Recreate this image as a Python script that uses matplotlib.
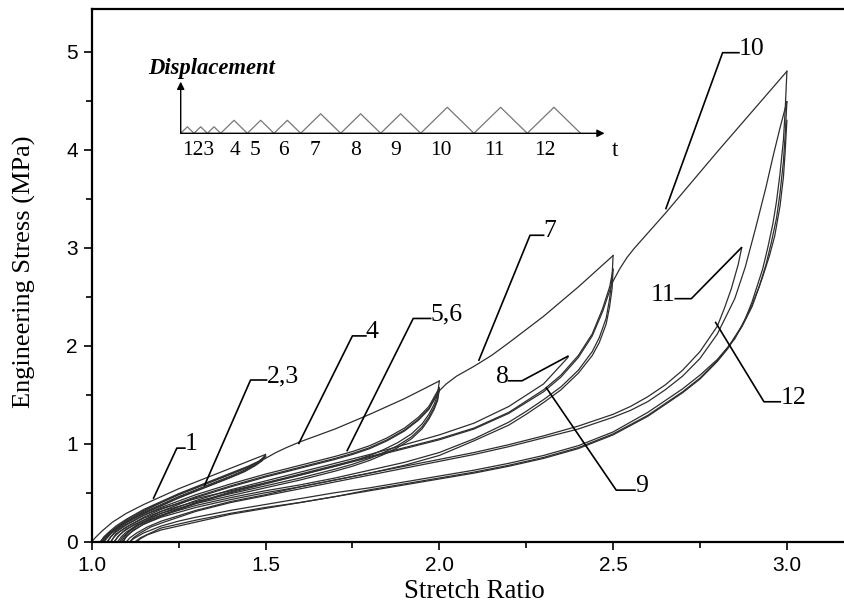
import matplotlib
matplotlib.use("Agg")
import matplotlib.pyplot as plt
from matplotlib.ticker import MultipleLocator, FixedLocator

SERIF = "Liberation Serif"
SANS = "Liberation Sans"

# ---------------- data ----------------
# group max stretch 1.5 (cycles 1-3)
c1_load_x = [1.0, 1.01, 1.03, 1.06, 1.1, 1.15, 1.2, 1.25, 1.3, 1.35, 1.4, 1.45, 1.5]
c1_load_y = [0, 0.04, 0.11, 0.2, 0.29, 0.38, 0.46, 0.54, 0.61, 0.68, 0.75, 0.82, 0.89]
c1_unload_x = [1.5, 1.49, 1.47, 1.44, 1.4, 1.35, 1.3, 1.25, 1.2, 1.15, 1.1, 1.07, 1.05, 1.035, 1.025]
c1_unload_y = [0.89, 0.84, 0.79, 0.73, 0.67, 0.6, 0.53, 0.46, 0.38, 0.3, 0.21, 0.14, 0.09, 0.04, 0]
c2_load_x = [1.025, 1.035, 1.05, 1.07, 1.1, 1.15, 1.2, 1.25, 1.3, 1.35, 1.4, 1.45, 1.48, 1.5]
c2_load_y = [0, 0.05, 0.1, 0.16, 0.23, 0.33, 0.41, 0.49, 0.56, 0.63, 0.7, 0.77, 0.82, 0.875]
c2_unload_x = [1.5, 1.49, 1.47, 1.44, 1.4, 1.35, 1.3, 1.25, 1.2, 1.15, 1.1, 1.07, 1.05, 1.04, 1.03]
c2_unload_y = [0.875, 0.83, 0.78, 0.72, 0.66, 0.59, 0.52, 0.45, 0.37, 0.29, 0.2, 0.13, 0.08, 0.04, 0]
c3_load_x = [1.03, 1.04, 1.055, 1.075, 1.1, 1.15, 1.2, 1.25, 1.3, 1.35, 1.4, 1.45, 1.48, 1.5]
c3_load_y = [0, 0.05, 0.1, 0.16, 0.22, 0.32, 0.4, 0.48, 0.55, 0.62, 0.69, 0.76, 0.815, 0.87]
c3_unload_x = [1.5, 1.49, 1.47, 1.44, 1.4, 1.35, 1.3, 1.25, 1.2, 1.15, 1.1, 1.075, 1.055, 1.045, 1.035]
c3_unload_y = [0.87, 0.825, 0.775, 0.715, 0.655, 0.585, 0.515, 0.445, 0.365, 0.285, 0.195, 0.135, 0.08, 0.04, 0]

# group max stretch 2.0 (cycles 4-6)
c4_load_x = [1.035, 1.045, 1.06, 1.08, 1.1, 1.15, 1.2, 1.25, 1.3, 1.35, 1.4, 1.45, 1.5, 1.53, 1.56, 1.6, 1.7, 1.8, 1.9, 2.0]
c4_load_y = [0, 0.05, 0.1, 0.15, 0.2, 0.31, 0.4, 0.48, 0.55, 0.62, 0.69, 0.76, 0.85, 0.91, 0.96, 1.02, 1.15, 1.3, 1.46, 1.64]
c4_unload_x = [2.0, 1.995, 1.985, 1.97, 1.95, 1.92, 1.88, 1.84, 1.8, 1.75, 1.7, 1.6, 1.5, 1.4, 1.3, 1.25, 1.2, 1.15, 1.1, 1.07, 1.055, 1.045]
c4_unload_y = [1.64, 1.5, 1.4, 1.3, 1.2, 1.1, 1.01, 0.94, 0.88, 0.82, 0.77, 0.68, 0.6, 0.52, 0.44, 0.39, 0.34, 0.27, 0.18, 0.11, 0.05, 0]
c5_load_x = [1.045, 1.055, 1.07, 1.1, 1.15, 1.2, 1.3, 1.4, 1.5, 1.6, 1.7, 1.75, 1.8, 1.85, 1.9, 1.94, 1.97, 2.0]
c5_load_y = [0, 0.05, 0.1, 0.17, 0.27, 0.35, 0.48, 0.59, 0.69, 0.78, 0.87, 0.92, 0.98, 1.06, 1.16, 1.27, 1.38, 1.57]
c5_unload_x = [2.0, 1.995, 1.985, 1.97, 1.95, 1.92, 1.88, 1.84, 1.8, 1.75, 1.7, 1.6, 1.5, 1.4, 1.3, 1.2, 1.15, 1.1, 1.07, 1.055]
c5_unload_y = [1.57, 1.46, 1.37, 1.27, 1.17, 1.07, 0.98, 0.91, 0.85, 0.79, 0.74, 0.65, 0.57, 0.49, 0.41, 0.31, 0.24, 0.15, 0.08, 0]
c6_load_x = [1.055, 1.065, 1.08, 1.11, 1.15, 1.2, 1.3, 1.4, 1.5, 1.6, 1.7, 1.75, 1.8, 1.85, 1.9, 1.94, 1.97, 2.0]
c6_load_y = [0, 0.05, 0.1, 0.17, 0.25, 0.33, 0.46, 0.57, 0.67, 0.76, 0.85, 0.9, 0.96, 1.04, 1.14, 1.25, 1.36, 1.55]
c6_unload_x = [2.0, 1.995, 1.985, 1.97, 1.95, 1.92, 1.88, 1.84, 1.8, 1.75, 1.7, 1.6, 1.5, 1.4, 1.3, 1.2, 1.15, 1.1, 1.08, 1.065]
c6_unload_y = [1.55, 1.44, 1.35, 1.25, 1.15, 1.05, 0.96, 0.89, 0.83, 0.77, 0.72, 0.63, 0.55, 0.47, 0.39, 0.29, 0.22, 0.13, 0.07, 0]

# group max stretch 2.5 (cycles 7-9)
c7_load_x = [1.065, 1.075, 1.09, 1.12, 1.15, 1.2, 1.3, 1.4, 1.5, 1.6, 1.7, 1.75, 1.8, 1.85, 1.9, 1.94, 1.97, 2.0,
             2.02, 2.05, 2.1, 2.15, 2.2, 2.3, 2.4, 2.5]
c7_load_y = [0, 0.05, 0.1, 0.17, 0.22, 0.31, 0.45, 0.56, 0.66, 0.75, 0.84, 0.89, 0.95, 1.03, 1.13, 1.24, 1.35, 1.54,
             1.61, 1.69, 1.79, 1.9, 2.03, 2.3, 2.6, 2.92]
c7_unload_x = [2.5, 2.497, 2.49, 2.48, 2.46, 2.44, 2.4, 2.35, 2.3, 2.25, 2.2, 2.1, 2.0, 1.9, 1.8, 1.7, 1.6, 1.5, 1.4,
               1.3, 1.2, 1.15, 1.12, 1.1, 1.085]
c7_unload_y = [2.92, 2.7, 2.48, 2.28, 2.08, 1.94, 1.75, 1.58, 1.45, 1.33, 1.22, 1.05, 0.91, 0.81, 0.73, 0.65, 0.58,
               0.52, 0.45, 0.37, 0.27, 0.2, 0.14, 0.08, 0]
c8_load_x = [1.075, 1.085, 1.1, 1.13, 1.2, 1.3, 1.4, 1.5, 1.6, 1.7, 1.8, 1.9, 2.0, 2.1, 2.2, 2.3, 2.37]
c8_load_y = [0, 0.05, 0.1, 0.17, 0.29, 0.42, 0.53, 0.62, 0.71, 0.8, 0.89, 0.99, 1.09, 1.21, 1.38, 1.61, 1.88]
c9_load_x = [1.08, 1.09, 1.105, 1.135, 1.2, 1.3, 1.4, 1.5, 1.6, 1.7, 1.8, 1.9, 2.0, 2.1, 2.2, 2.3, 2.35, 2.4, 2.44,
             2.47, 2.49, 2.5]
c9_load_y = [0, 0.05, 0.1, 0.17, 0.27, 0.4, 0.51, 0.6, 0.69, 0.78, 0.87, 0.96, 1.05, 1.16, 1.32, 1.55, 1.7, 1.9, 2.12,
             2.38, 2.6, 2.78]
c9_unload_x = [2.5, 2.497, 2.49, 2.48, 2.46, 2.44, 2.4, 2.35, 2.3, 2.25, 2.2, 2.1, 2.0, 1.9, 1.8, 1.7, 1.6, 1.5, 1.4,
               1.3, 1.2, 1.15, 1.12, 1.1, 1.09]
c9_unload_y = [2.78, 2.58, 2.4, 2.22, 2.03, 1.9, 1.72, 1.55, 1.42, 1.3, 1.19, 1.03, 0.88, 0.78, 0.7, 0.63, 0.56, 0.5,
               0.43, 0.35, 0.25, 0.18, 0.12, 0.06, 0]

# group max stretch 3.0 (cycles 10-12)
c10_load_x = [1.09, 1.1, 1.115, 1.145, 1.2, 1.3, 1.4, 1.5, 1.6, 1.7, 1.8, 1.9, 2.0, 2.1, 2.2, 2.3, 2.35, 2.4, 2.44,
              2.47, 2.49, 2.5, 2.52, 2.54, 2.56, 2.58, 2.6, 2.65, 2.7, 2.8, 2.9, 3.0]
c10_load_y = [0, 0.05, 0.1, 0.17, 0.26, 0.39, 0.5, 0.59, 0.68, 0.77, 0.86, 0.95, 1.04, 1.15, 1.31, 1.53, 1.68, 1.88,
              2.1, 2.35, 2.56, 2.66, 2.79, 2.9, 2.99, 3.07, 3.15, 3.35, 3.56, 3.98, 4.39, 4.80]
c10_unload_x = [3.0, 2.995, 2.99, 2.98, 2.97, 2.96, 2.945, 2.93, 2.9, 2.88, 2.85, 2.8, 2.75, 2.7, 2.6, 2.5, 2.4, 2.3,
                2.2, 2.1, 2.0, 1.9, 1.8, 1.7, 1.6, 1.5, 1.4, 1.3, 1.25, 1.2, 1.15, 1.12, 1.11]
c10_unload_y = [4.80, 4.4, 4.1, 3.75, 3.47, 3.25, 3.0, 2.78, 2.45, 2.27, 2.07, 1.86, 1.7, 1.56, 1.32, 1.12, 0.98,
                0.88, 0.8, 0.73, 0.67, 0.61, 0.55, 0.5, 0.44, 0.38, 0.32, 0.25, 0.21, 0.16, 0.09, 0.03, 0]
c11_load_x = [1.1, 1.11, 1.13, 1.16, 1.2, 1.3, 1.4, 1.5, 1.6, 1.7, 1.8, 1.9, 2.0, 2.1, 2.2, 2.3, 2.4, 2.5, 2.55,
              2.6, 2.65, 2.7, 2.75, 2.8, 2.82, 2.84, 2.86, 2.87]
c11_load_y = [0, 0.04, 0.09, 0.15, 0.21, 0.32, 0.41, 0.48, 0.56, 0.63, 0.7, 0.77, 0.84, 0.91, 0.99, 1.08, 1.18, 1.3,
              1.38, 1.48, 1.6, 1.75, 1.94, 2.2, 2.38, 2.58, 2.83, 3.0]
c12_load_x = [1.11, 1.12, 1.14, 1.17, 1.2, 1.3, 1.4, 1.5, 1.6, 1.7, 1.8, 1.9, 2.0, 2.1, 2.2, 2.3, 2.4, 2.5, 2.55,
              2.6, 2.65, 2.7, 2.75, 2.8, 2.85, 2.88, 2.91, 2.94, 2.96, 2.98, 3.0]
c12_load_y = [0, 0.04, 0.09, 0.15, 0.19, 0.31, 0.4, 0.47, 0.54, 0.61, 0.68, 0.75, 0.82, 0.89, 0.97, 1.06, 1.15, 1.27,
              1.34, 1.43, 1.55, 1.69, 1.87, 2.12, 2.48, 2.8, 3.2, 3.62, 3.93, 4.22, 4.49]
c12_unload_x = [3.0, 2.995, 2.99, 2.98, 2.97, 2.955, 2.94, 2.92, 2.9, 2.87, 2.83, 2.8, 2.75, 2.7, 2.6, 2.5, 2.4, 2.3,
                2.2, 2.1, 2.0, 1.9, 1.8, 1.7, 1.6, 1.5, 1.4, 1.3, 1.2, 1.16, 1.14, 1.13]
c12_unload_y = [4.49, 4.15, 3.88, 3.55, 3.3, 3.05, 2.83, 2.6, 2.42, 2.2, 1.98, 1.85, 1.67, 1.53, 1.29, 1.1, 0.96,
                0.86, 0.78, 0.71, 0.65, 0.59, 0.53, 0.46, 0.4, 0.34, 0.28, 0.2, 0.12, 0.07, 0.03, 0]
c13_unload_x = [3.0, 2.995, 2.99, 2.98, 2.965, 2.95, 2.93, 2.9, 2.87, 2.83, 2.8, 2.75, 2.7, 2.6, 2.5, 2.4, 2.3, 2.2,
                2.1, 2.0, 1.9, 1.8, 1.7, 1.6, 1.5, 1.4, 1.3, 1.2, 1.17, 1.14, 1.125]
c13_unload_y = [4.30, 3.98, 3.72, 3.42, 3.12, 2.92, 2.7, 2.4, 2.19, 1.97, 1.84, 1.66, 1.52, 1.28, 1.09, 0.95, 0.85,
                0.77, 0.7, 0.64, 0.58, 0.52, 0.46, 0.4, 0.35, 0.29, 0.22, 0.14, 0.09, 0.04, 0]

# leader labels: text, [curve point, elbow, end], side of text
lab_text = ["1", "2,3", "4", "5,6", "7", "10", "8", "9", "11", "12"]
lab_x = [[1.178, 1.245, 1.268], [1.325, 1.457, 1.503], [1.596, 1.750, 1.789], [1.735, 1.925, 1.975],
         [2.114, 2.261, 2.300], [2.652, 2.815, 2.862], [2.370, 2.238, 2.199], [2.308, 2.509, 2.563],
         [2.869, 2.725, 2.679], [2.795, 2.934, 2.981]]
lab_y = [[0.445, 0.955, 0.955], [0.578, 1.65, 1.65], [1.003, 2.10, 2.10], [0.93, 2.278, 2.278],
         [1.853, 3.127, 3.127], [3.40, 4.99, 4.99], [1.893, 1.642, 1.642], [1.57, 0.526, 0.526],
         [3.0, 2.48, 2.48], [2.237, 1.428, 1.428]]
lab_side = ["left", "left", "left", "left", "left", "left", "right", "left", "right", "left"]

# inset: displacement amplitude of the 12 triangular cycles
cycle_amp = [0.5, 0.5, 0.5, 1.0, 1.0, 1.0, 1.5, 1.5, 1.5, 2.0, 2.0, 2.0]
cycle_names = ["123", "4", "5", "6", "7", "8", "9", "10", "11", "12"]
cycle_label_t = [1.3, 4.05, 5.55, 7.7, 10.1, 13.1, 16.1, 19.5, 23.5, 27.3]

x_ticks = [1.0, 1.5, 2.0, 2.5, 3.0]
x_ticklabels = ["1.0", "1.5", "2.0", "2.5", "3.0"]
y_ticks = [0, 1, 2, 3, 4, 5]
y_ticklabels = ["0", "1", "2", "3", "4", "5"]

# ---------------- figure ----------------
W_PX, H_PX = 844, 616
fig = plt.figure(figsize=(W_PX / 100, H_PX / 100), dpi=100)
left_px, bottom_px, top_px = 91.7, 541.7, 8.6
ax = fig.add_axes([left_px / W_PX, 1 - bottom_px / H_PX, 1 - left_px / W_PX, (bottom_px - top_px) / H_PX])
ax.set_xlim(1.0, 1.0 + (W_PX - left_px) / 347.6)
ax.set_ylim(0, 5.44)

curves = [
    (c1_load_x, c1_load_y), (c1_unload_x, c1_unload_y), (c2_load_x, c2_load_y), (c2_unload_x, c2_unload_y),
    (c3_load_x, c3_load_y), (c3_unload_x, c3_unload_y), (c4_load_x, c4_load_y), (c4_unload_x, c4_unload_y),
    (c5_load_x, c5_load_y), (c5_unload_x, c5_unload_y), (c6_load_x, c6_load_y), (c6_unload_x, c6_unload_y),
    (c7_load_x, c7_load_y), (c7_unload_x, c7_unload_y), (c8_load_x, c8_load_y), (c9_load_x, c9_load_y),
    (c9_unload_x, c9_unload_y), (c10_load_x, c10_load_y), (c10_unload_x, c10_unload_y),
    (c11_load_x, c11_load_y), (c12_load_x, c12_load_y), (c12_unload_x, c12_unload_y),
    (c13_unload_x, c13_unload_y),
]
for cx, cy in curves:
    ax.plot(cx, cy, color="#2e2e2e", lw=0.9, solid_joinstyle="round", zorder=2)

for txt, lx, ly, side in zip(lab_text, lab_x, lab_y, lab_side):
    ax.plot(lx, ly, color="black", lw=1.2, zorder=3)
    ax.text(lx[-1], ly[-1] - 0.02, txt, ha=side, va="baseline", family=SERIF, fontsize=18.5, zorder=4)

ax.spines["right"].set_visible(False)
for s in ("left", "top", "bottom"):
    ax.spines[s].set_linewidth(1.6)
ax.xaxis.set_major_locator(FixedLocator(x_ticks))
ax.set_xticklabels(x_ticklabels)
ax.yaxis.set_major_locator(FixedLocator(y_ticks))
ax.set_yticklabels(y_ticklabels)
ax.xaxis.set_minor_locator(MultipleLocator(0.25))
ax.yaxis.set_minor_locator(MultipleLocator(0.5))
ax.tick_params(which="major", direction="out", length=6, width=1.2, labelsize=15, pad=4)
ax.tick_params(which="minor", direction="out", length=4, width=1.2)
for lbl in ax.get_xticklabels() + ax.get_yticklabels():
    lbl.set_family(SANS)
ax.tick_params(axis="x", which="both", top=False)

fig.text(474 / W_PX, 1 - 592 / H_PX, "Stretch Ratio", ha="center", va="center", family=SERIF, fontsize=19.3)
fig.text(24 / W_PX, 1 - 272 / H_PX, "Engineering Stress (MPa)", ha="center", va="center", rotation=90,
         family=SERIF, fontsize=19)

# ---------------- inset: loading history ----------------
ox, oy, sx, sy = 180.7, 133.3, 13.33, 13.0
il, ir, it_, ib = 165, 630, 55, 170
iax = fig.add_axes([il / W_PX, 1 - ib / H_PX, (ir - il) / W_PX, (ib - it_) / H_PX])
iax.set_xlim((il - ox) / sx, (ir - ox) / sx)
iax.set_ylim((oy - ib) / sy, (oy - it_) / sy)
iax.axis("off")

tt, dd = [0.0], [0.0]
for a in cycle_amp:
    tt += [tt[-1] + a, tt[-1] + 2 * a]
    dd += [a, 0.0]
iax.plot(tt, dd, color="#777777", lw=0.9)
arrow = dict(arrowstyle="-|>", color="black", lw=1.0, mutation_scale=11, shrinkA=0, shrinkB=0)
iax.annotate("", xy=(31.8, 0), xytext=(0, 0), arrowprops=arrow)
iax.annotate("", xy=(0, 3.97), xytext=(0, 0), arrowprops=arrow)
for name, t in zip(cycle_names, cycle_label_t):
    iax.text(t, -1.36, name, ha="center", va="center", family=SERIF, fontsize=15.5)
iax.text(32.6, -1.36, "t", ha="center", va="center", family=SERIF, fontsize=17)
fig.text(148 / W_PX, 1 - 74 / H_PX, "Displacement", ha="left", va="baseline", family=SERIF,
         fontweight="bold", style="italic", fontsize=16.3)

fig.savefig("out.png", dpi=100)
